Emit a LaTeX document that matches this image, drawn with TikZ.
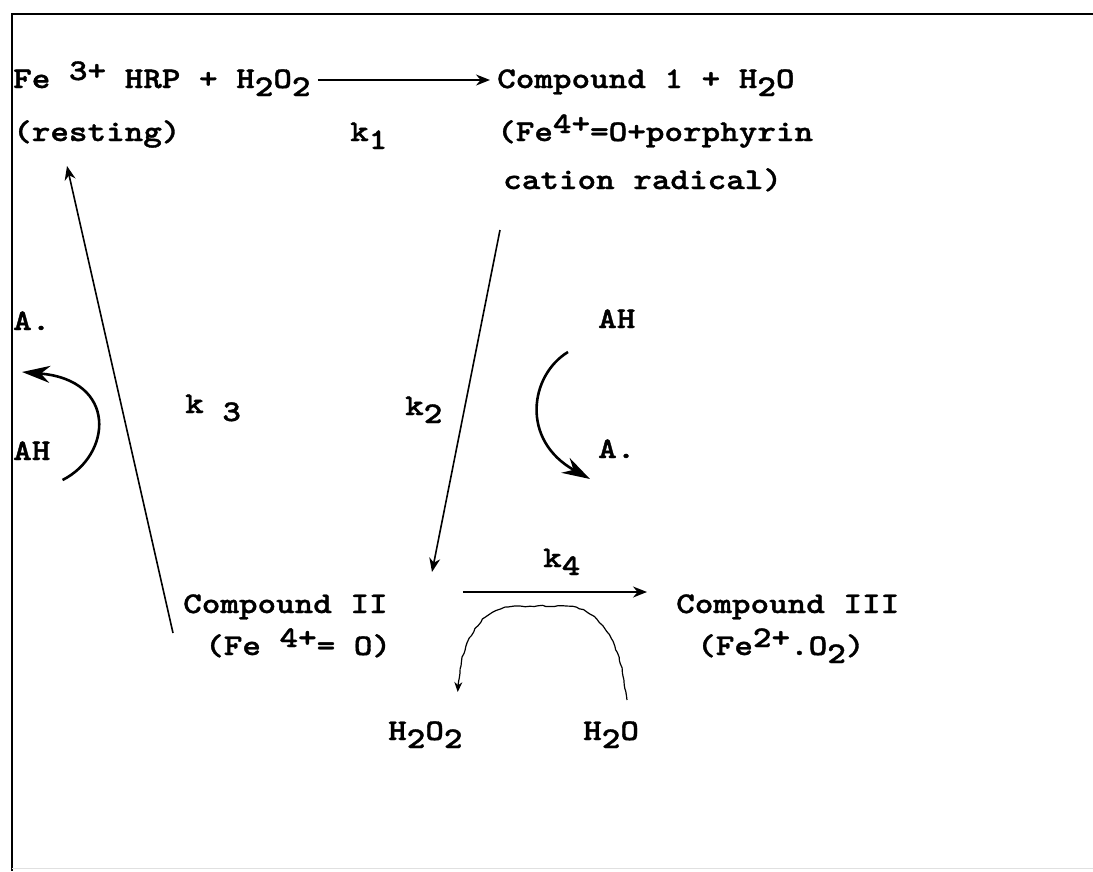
\documentclass[tikz,border=0pt]{standalone}
\usepackage{fontspec}
\newfontfamily\typew{lmmonolt10-bold.otf}[FakeStretch=1.18, FakeBold=1.2]
\usepackage{tikz}
\usetikzlibrary{arrows.meta, decorations.pathmorphing}
\newcommand\lo[1]{\raisebox{-8pt}{#1}}
\newcommand\hi[1]{\raisebox{8pt}{#1}}

\begin{document}
\begin{tikzpicture}[
  x=1pt, y=-1pt,
  font=\typew\fontsize{30}{36}\selectfont,
  chem/.style={inner sep=0pt, anchor=base west},
  flow/.style={-{Stealth[length=14pt, width=11pt]}, line width=1.6pt},
  turn/.style={-{Stealth[length=28pt, width=17pt]}, line width=2.6pt},
  wave/.style={-{Stealth[length=10pt, width=8pt]}, line width=1.2pt,
               decorate, decoration={random steps, segment length=4pt,
               amplitude=0.8pt, pre length=4pt, post length=8pt}},
  frame/.style={line width=2.4pt}
]
  \useasboundingbox (0,0) rectangle (1093,871);
  \draw[frame] (1093,14) -- (12,14) -- (12,871);
  \draw[black!12, line width=1pt] (12,868) -- (1093,868);

  \node[chem] (fe3) at (13,88) {Fe \hi{3+} HRP + H\lo{2}O\lo{2}};
  \node[chem] (rest) at (13,141) {(resting)};
  \node[chem] (k1) at (350,141) {k\lo{1}};
  \node[chem] (cpd1) at (497,88) {Compound 1 + H\lo{2}O};
  \node[chem] (cpd1b) at (497,141) {(Fe\hi{4+}=O+porphyrin};
  \node[chem] (cpd1c) at (503,189) {cation radical)};

  \node[chem] (adotL) at (13,330) {A.};
  \node[chem] (ahL) at (13,460) {AH};
  \node[chem] (k3) at (185,413) {k \lo{3}};
  \node[chem] (k2) at (405,415) {k\lo{2}};
  \node[chem] (ahR) at (598,328) {AH};
  \node[chem] (adotR) at (598,458) {A.};

  \node[chem] (k4) at (543,567) {k\lo{4}};
  \node[chem] (cpd2) at (183,613) {Compound II};
  \node[chem] (cpd2b) at (205,655) {(Fe \hi{4+}= O)};
  \node[chem] (cpd3) at (676,613) {Compound III};
  \node[chem] (cpd3b) at (697,655) {(Fe\hi{2+}.O\lo{2})};
  \node[chem] (h2o2) at (388,740) {H\lo{2}O\lo{2}};
  \node[chem] (h2o) at (583,740) {H\lo{2}O};

  \draw[flow] ([xshift=7pt,yshift=8pt]fe3.base east) -- ([xshift=-7pt,yshift=8pt]cpd1.base west);
  \draw[flow] ([xshift=-3pt,yshift=-41pt]cpd1c.base west) -- ([xshift=249pt,yshift=41pt]cpd2.base west);
  \draw[flow] ([xshift=-10pt,yshift=-20pt]cpd2.base west) -- ([xshift=54pt,yshift=-25pt]rest.base west);
  \draw[flow] ([xshift=75pt,yshift=21pt]cpd2.base east) -- ([xshift=-29pt,yshift=21pt]cpd3.base west);

  \draw[turn] ([xshift=12pt,yshift=-20pt]ahL.base east) .. controls (112,455) and (118,380) .. ([xshift=9pt,yshift=-42pt]adotL.base west);
  \draw[turn] ([xshift=-30pt,yshift=-24pt]ahR.base west) .. controls (530,375) and (520,440) .. ([xshift=-8pt,yshift=-21pt]adotR.base west);
  \draw[wave] ([xshift=44pt,yshift=40pt]h2o.base west) .. controls (620,640) and (600,606) .. (562,606) -- (520,606) .. controls (480,606) and (460,640) .. ([xshift=-5pt,yshift=48pt]h2o2.base east);
\end{tikzpicture}
\end{document}
